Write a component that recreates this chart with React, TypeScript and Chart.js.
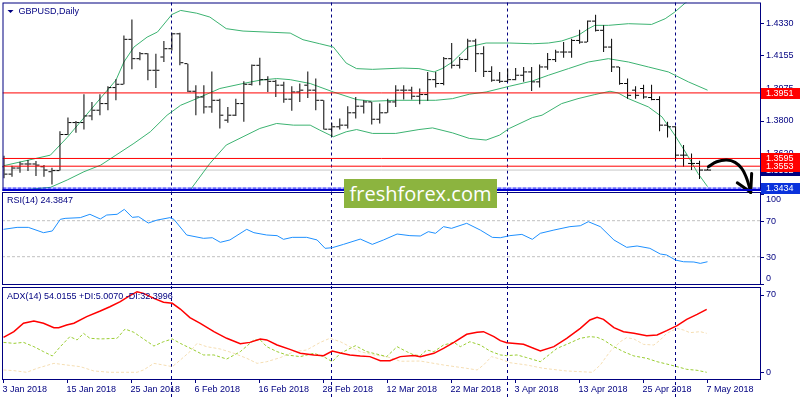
import React, { useEffect, useRef } from 'react';
import { Chart, registerables } from 'chart.js';

Chart.register(...registerables);

// ---------------- data ----------------
const symbolTitle = 'GBPUSD,Daily';
const rsiTitle = 'RSI(14) 24.3847';
const adxTitle = 'ADX(14) 54.0155 +DI:5.0070 -DI:32.3996';

const dateTickIndex = [0, 8, 16, 24, 32, 40, 48, 56, 64, 72, 80, 88];
const dateTickLabels = ['3 Jan 2018', '15 Jan 2018', '25 Jan 2018', '6 Feb 2018', '16 Feb 2018', '28 Feb 2018', '12 Mar 2018', '22 Mar 2018', '3 Apr 2018', '13 Apr 2018', '25 Apr 2018', '7 May 2018'];
const monthSeparatorIndex = [21, 41, 63, 84];

const opens = [1.3550, 1.3510, 1.3543, 1.3565, 1.3565, 1.3550, 1.3523, 1.3529, 1.3725, 1.3790,
  1.3790, 1.3826, 1.3857, 1.3893, 1.3980, 1.3998, 1.4242, 1.4137, 1.4164, 1.4074,
  1.4146, 1.4191, 1.4272, 1.4110, 1.3960, 1.3929, 1.3875, 1.3911, 1.3803, 1.3830,
  1.3893, 1.3998, 1.4101, 1.4023, 1.4014, 1.3993, 1.3917, 1.3956, 1.3993, 1.3966,
  1.3911, 1.3754, 1.3767, 1.3776, 1.3843, 1.3879, 1.3902, 1.3808, 1.3843, 1.3902,
  1.3966, 1.3966, 1.3933, 1.3942, 1.4023, 1.4002, 1.4137, 1.4101, 1.4133, 1.4233,
  1.4164, 1.4068, 1.4020, 1.4014, 1.4023, 1.4047, 1.4065, 1.4011, 1.4092, 1.4132,
  1.4173, 1.4173, 1.4236, 1.4227, 1.4341, 1.4291, 1.4200, 1.4092, 1.4002, 1.3966,
  1.3975, 1.3926, 1.3915, 1.3776, 1.3767, 1.3613, 1.3568, 1.3568, 1.3532];
const highs = [1.3610, 1.3556, 1.3577, 1.3586, 1.3581, 1.3559, 1.3545, 1.3743, 1.3817, 1.3798,
  1.3944, 1.3902, 1.3944, 1.3987, 1.4025, 1.4263, 1.4350, 1.4173, 1.4166, 1.4164,
  1.4233, 1.4278, 1.4278, 1.4110, 1.3993, 1.3993, 1.4068, 1.3920, 1.3875, 1.3920,
  1.4014, 1.4106, 1.4142, 1.4041, 1.4023, 1.4011, 1.3987, 1.4002, 1.4068, 1.4029,
  1.3911, 1.3789, 1.3812, 1.3879, 1.3929, 1.3911, 1.3902, 1.3893, 1.3920, 1.3993,
  1.3993, 1.3984, 1.3975, 1.4065, 1.4065, 1.4146, 1.4222, 1.4146, 1.4245, 1.4245,
  1.4204, 1.4096, 1.4065, 1.4083, 1.4086, 1.4092, 1.4092, 1.4106, 1.4168, 1.4186,
  1.4227, 1.4245, 1.4294, 1.4345, 1.4375, 1.4318, 1.4245, 1.4092, 1.4029, 1.3987,
  1.3996, 1.3996, 1.3933, 1.3794, 1.3770, 1.3668, 1.3622, 1.3583, 1.3541];
const lows = [1.3487, 1.3496, 1.3518, 1.3527, 1.3500, 1.3496, 1.3454, 1.3529, 1.3722, 1.3734,
  1.3752, 1.3803, 1.3830, 1.3857, 1.3911, 1.3998, 1.4079, 1.4128, 1.4020, 1.3978,
  1.4119, 1.4182, 1.4101, 1.3956, 1.3830, 1.3839, 1.3843, 1.3758, 1.3789, 1.3825,
  1.3794, 1.3991, 1.3993, 1.3956, 1.3929, 1.3897, 1.3854, 1.3902, 1.3924, 1.3857,
  1.3752, 1.3713, 1.3752, 1.3758, 1.3812, 1.3839, 1.3780, 1.3785, 1.3843, 1.3875,
  1.3915, 1.3915, 1.3890, 1.3908, 1.3980, 1.3993, 1.4083, 1.4083, 1.4128, 1.4065,
  1.4038, 1.4011, 1.4005, 1.4011, 1.4020, 1.4011, 1.3962, 1.3980, 1.4077, 1.4119,
  1.4142, 1.4142, 1.4218, 1.4227, 1.4285, 1.4173, 1.4065, 1.3996, 1.3920, 1.3920,
  1.3920, 1.3911, 1.3743, 1.3709, 1.3586, 1.3550, 1.3532, 1.3483, 1.3529];
const closes = [1.3510, 1.3543, 1.3565, 1.3565, 1.3559, 1.3532, 1.3529, 1.3725, 1.3790, 1.3790,
  1.3826, 1.3857, 1.3893, 1.3980, 1.3998, 1.4242, 1.4137, 1.4164, 1.4074, 1.4074,
  1.4191, 1.4272, 1.4115, 1.3960, 1.3929, 1.3875, 1.3911, 1.3830, 1.3830, 1.3893,
  1.3998, 1.4101, 1.4023, 1.4014, 1.3993, 1.3917, 1.3956, 1.3966, 1.3966, 1.3911,
  1.3754, 1.3767, 1.3776, 1.3843, 1.3879, 1.3902, 1.3808, 1.3843, 1.3902, 1.3966,
  1.3966, 1.3933, 1.3942, 1.4023, 1.4002, 1.4137, 1.4101, 1.4133, 1.4233, 1.4164,
  1.4068, 1.4020, 1.4014, 1.4023, 1.4047, 1.4065, 1.4011, 1.4092, 1.4132, 1.4173,
  1.4173, 1.4236, 1.4227, 1.4341, 1.4291, 1.4200, 1.4092, 1.4002, 1.3938, 1.3938,
  1.3929, 1.3915, 1.3776, 1.3767, 1.3613, 1.3613, 1.3568, 1.3532, 1.3532];

const bbUpperX = [0, 5.8, 7.9, 10, 12.1, 14, 15, 16.25, 17.9, 19.2, 21, 22.1, 24.1, 25.75, 27.8, 29.9, 35.8, 37.4, 39.5, 41.2, 42.8, 44.1, 46.1, 49.8, 51.9, 53.8, 54.8, 56.1, 58, 60.3, 63.2, 66.1, 68.1, 69.75, 71.8, 73.1, 73.9, 75.6, 78.1, 81, 82.7, 83.9, 85.2, 86.5, 88];
const bbUpper = [1.3556, 1.3613, 1.3709, 1.3816, 1.3924, 1.4020, 1.4119, 1.4200, 1.4254, 1.4282, 1.4377, 1.4399, 1.4384, 1.4363, 1.4300, 1.4287, 1.4276, 1.4240, 1.4218, 1.4200, 1.4113, 1.4083, 1.4079, 1.4086, 1.4083, 1.4065, 1.4083, 1.4119, 1.4200, 1.4222, 1.4222, 1.4218, 1.4222, 1.4233, 1.4263, 1.4300, 1.4318, 1.4318, 1.4327, 1.4323, 1.4354, 1.4390, 1.4439, 1.4480, 1.4530];
const bbMiddleX = [0, 3.5, 5.8, 7.9, 10, 12.1, 14, 16.25, 18.3, 20.4, 22.1, 24.1, 27, 29.9, 32, 34.1, 35.8, 38.3, 41.2, 44.1, 46.1, 49, 51.9, 54, 56.1, 58.2, 60.3, 63.2, 66.1, 68.1, 70.6, 73.1, 75.6, 78.1, 80.6, 83.1, 85.6, 88];
const bbMiddle = [1.3405, 1.3429, 1.3438, 1.3478, 1.3523, 1.3559, 1.3613, 1.3677, 1.3740, 1.3830, 1.3884, 1.3920, 1.3975, 1.4002, 1.4020, 1.4029, 1.4023, 1.4002, 1.3956, 1.3915, 1.3906, 1.3911, 1.3911, 1.3911, 1.3920, 1.3944, 1.3956, 1.3987, 1.4016, 1.4047, 1.4083, 1.4119, 1.4137, 1.4119, 1.4092, 1.4065, 1.4011, 1.3966];
const bbLowerX = [22, 23.3, 25.75, 27.8, 29.9, 32, 34.1, 36.2, 38.3, 39.5, 41.2, 42.8, 44.1, 46.1, 49, 51.9, 53.6, 56.1, 58.2, 60.3, 62, 63.2, 66.1, 67.3, 69.75, 71.8, 73.9, 75.8, 76.8, 78.1, 80.6, 82.3, 83.9, 85.6, 86.8, 88];
const bbLower = [1.3350, 1.3424, 1.3568, 1.3668, 1.3713, 1.3758, 1.3785, 1.3776, 1.3776, 1.3749, 1.3713, 1.3740, 1.3752, 1.3731, 1.3731, 1.3752, 1.3761, 1.3734, 1.3704, 1.3695, 1.3722, 1.3758, 1.3817, 1.3830, 1.3893, 1.3920, 1.3942, 1.3960, 1.3951, 1.3920, 1.3875, 1.3821, 1.3722, 1.3604, 1.3514, 1.3442];

const priceTicks = [1.4330, 1.4155, 1.3975, 1.3800, 1.3620];
const redLevels = [1.3951, 1.3595, 1.3553];
const bidPrice = 1.3532;
const targetLevel = 1.3434;

const arrowX = [88.1, 89.15, 90.4, 91.44, 92.27, 92.81, 93.22, 93.4];
const arrowY = [1.3550, 1.3577, 1.3586, 1.3574, 1.3541, 1.3496, 1.3442, 1.3411];
const arrowHeadLeftX = [91.72, 93.4];
const arrowHeadLeftY = [1.3463, 1.3411];
const arrowHeadRightX = [93.52, 93.4];
const arrowHeadRightY = [1.3514, 1.3411];

const rsiX = [0, 1.7, 3.1, 5.0, 6.1, 7.1, 7.7, 9.6, 10.8, 12.1, 12.9, 14.2, 15.1, 16.1, 16.9, 18.1, 19.2, 20.8, 21.3, 22.9, 25.0, 26.1, 27.1, 28.3, 30.4, 31.3, 32.9, 34.2, 35.0, 36.1, 37.9, 39.2, 40.2, 41.1, 42.5, 44.6, 46.1, 47.5, 49.2, 50.8, 52.1, 53.1, 54.0, 55.0, 56.0, 57.9, 59.6, 61.1, 62.1, 63.3, 64.8, 66.1, 67.1, 68.8, 70.8, 72.1, 73.1, 74.6, 76.3, 77.9, 79.2, 80.8, 82.1, 82.9, 84.0, 85.0, 86.3, 87.1, 88.0];
const rsiValues = [60.4, 62.6, 62.6, 56.7, 58.6, 71.5, 72.6, 73.4, 77.1, 71.9, 76.3, 77.1, 82.6, 73.7, 74.4, 67.4, 70.7, 73.4, 71.5, 54.1, 50.4, 51.1, 46.0, 48.6, 60.4, 56.7, 54.1, 53.4, 49.3, 51.5, 51.5, 48.6, 39.3, 40.0, 43.7, 49.6, 43.7, 48.6, 55.2, 53.4, 53.0, 57.8, 56.0, 63.4, 61.5, 67.1, 59.6, 51.5, 51.1, 53.4, 54.8, 49.3, 56.0, 59.6, 63.4, 64.4, 68.9, 63.4, 48.6, 40.4, 41.9, 39.3, 33.0, 31.9, 26.3, 24.4, 24.1, 22.6, 24.4];
const rsiLevels = [70, 30];
const rsiTicks = [100, 70, 30, 0];

const adxX = [0, 1.3, 2.5, 3.8, 5.0, 6.3, 6.9, 7.9, 8.8, 10.4, 12.1, 13.3, 14.6, 15.8, 16.7, 17.5, 18.8, 20.0, 21.1, 22.1, 23.3, 24.6, 26.3, 27.9, 29.6, 30.8, 32.1, 32.9, 34.2, 35.8, 37.1, 38.8, 40.0, 41.1, 42.1, 43.3, 44.6, 45.8, 47.1, 48.3, 49.6, 51.3, 52.1, 53.8, 55.0, 56.3, 57.9, 59.2, 60.0, 61.3, 62.1, 62.9, 65.0, 67.1, 68.8, 70.4, 72.1, 73.3, 74.2, 75.0, 76.3, 77.5, 78.8, 80.4, 81.7, 82.9, 84.2, 85.4, 86.7, 87.9];
const adxValues = [31.7, 36.8, 44.4, 46.5, 44.4, 40.4, 40.4, 42.8, 44.4, 50.4, 55.5, 59.4, 64.0, 69.4, 73.0, 71.5, 67.0, 63.4, 62.5, 57.3, 49.5, 44.4, 36.8, 30.8, 25.9, 27.1, 30.2, 29.3, 24.7, 20.8, 17.2, 15.7, 15.1, 19.3, 17.5, 15.7, 14.8, 14.2, 10.5, 10.5, 14.2, 15.1, 14.2, 17.2, 21.7, 27.1, 34.4, 36.2, 36.8, 32.3, 28.7, 26.8, 25.4, 19.3, 23.2, 30.8, 39.8, 47.4, 49.8, 48.0, 40.4, 36.8, 35.3, 33.2, 33.8, 37.7, 42.2, 48.0, 52.5, 57.0];
const plusDiX = [0, 1.3, 2.5, 3.8, 5.0, 6.1, 7.1, 8.3, 9.2, 10.0, 10.8, 12.1, 14.2, 15.2, 16.3, 17.5, 18.8, 20.0, 21.1, 22.1, 23.8, 25.0, 26.3, 27.9, 29.6, 31.3, 32.1, 32.9, 34.2, 35.4, 37.1, 38.8, 40.0, 41.1, 42.1, 44.0, 45.4, 47.1, 47.9, 49.2, 49.6, 50.4, 51.3, 52.1, 52.9, 53.8, 55.0, 56.3, 57.1, 58.3, 59.6, 60.8, 62.1, 62.9, 64.2, 65.4, 67.1, 67.9, 69.2, 70.4, 72.1, 73.3, 74.2, 75.0, 76.3, 77.5, 78.8, 80.4, 81.7, 82.9, 84.2, 85.4, 86.7, 87.9];
const plusDi = [27.1, 26.2, 27.1, 23.2, 18.7, 14.8, 23.2, 32.3, 29.3, 35.3, 30.8, 30.2, 30.8, 39.2, 36.2, 30.2, 23.8, 27.7, 30.2, 26.2, 20.2, 15.7, 15.7, 12.0, 18.7, 29.3, 29.3, 23.2, 18.7, 15.7, 14.2, 17.2, 14.2, 9.6, 17.2, 24.1, 18.7, 15.7, 14.2, 23.2, 21.7, 18.7, 15.7, 15.1, 20.2, 18.7, 24.7, 27.1, 23.2, 27.7, 24.7, 19.3, 15.7, 15.1, 15.7, 13.3, 9.6, 14.2, 21.7, 25.3, 30.8, 32.3, 31.7, 29.3, 23.2, 18.7, 14.8, 12.7, 9.6, 7.5, 5.1, 2.7, 1.8, 0.0];
const minusDiX = [0, 1.3, 2.9, 4.2, 6.3, 7.9, 9.6, 11.3, 13.3, 15.4, 16.7, 17.5, 18.8, 20.0, 21.1, 22.1, 23.3, 24.2, 25.4, 27.1, 28.8, 30.4, 31.7, 32.9, 34.6, 36.3, 37.9, 39.6, 40.8, 42.1, 43.3, 44.6, 46.3, 47.9, 49.6, 52.1, 55.0, 57.9, 59.2, 60.0, 61.0, 62.1, 63.3, 65.4, 67.5, 70.4, 73.6, 74.6, 75.8, 77.1, 77.9, 78.8, 80.0, 81.3, 82.1, 82.9, 84.2, 85.0, 85.8, 87.1, 87.9];
const minusDi = [2.1, 1.5, 0.0, 3.6, 8.1, 6.6, 5.1, 1.2, 0.0, 0.0, 0.0, 2.1, 8.1, 6.6, 5.1, 11.1, 18.7, 26.2, 23.2, 21.1, 17.2, 12.7, 8.1, 9.6, 13.3, 18.7, 20.2, 27.1, 30.8, 27.7, 23.2, 18.7, 15.7, 14.2, 10.0, 10.2, 6.6, 3.6, 2.1, 6.6, 14.2, 12.0, 8.7, 6.6, 3.6, 1.2, 0.0, 6.6, 18.7, 27.7, 31.4, 30.2, 25.3, 24.7, 29.3, 35.3, 39.8, 38.3, 35.9, 36.8, 35.3];
const adxTicks = [70, 0];

// ---------------- chart setup ----------------
const X_MIN = -0.1875;
const X_MAX = 94.6875;
const PRICE_MIN = 1.34183;
const PRICE_MAX = 1.44421;
const RSI_MIN = -1.44;
const RSI_MAX = 101.89;
const ADX_MIN = -6.98;
const ADX_MAX = 77.26;

const NAVY = '#000080';
const GREEN = '#3cb371';
const FONT = '9px "Liberation Sans", Arial, sans-serif';

const zip = (xs: number[], ys: number[]) => xs.map((x, i) => ({ x, y: ys[i] }));
const hline = (v: number) => [{ x: X_MIN, y: v }, { x: X_MAX, y: v }];

const lineDs = (data: any[], extra: any) => ({
  type: 'line',
  data,
  borderColor: '#000',
  borderWidth: 1,
  pointRadius: 0,
  pointHoverRadius: 0,
  tension: 0,
  fill: false,
  ...extra,
});

const tickDs = (values: number[], dx: number) => ({
  type: 'line',
  data: values.map((v, i) => ({ x: i + dx, y: v })),
  showLine: false,
  pointStyle: 'line',
  pointRadius: 1.5,
  pointHoverRadius: 1.5,
  pointBorderColor: '#000',
  pointBackgroundColor: '#000',
  pointBorderWidth: 1,
  order: 2,
});

function baseOptions(ymin: number, ymax: number, padding: any): any {
  return {
    responsive: false,
    animation: false,
    events: [],
    layout: { padding },
    plugins: { legend: { display: false }, tooltip: { enabled: false }, title: { display: false } },
    scales: {
      x: { type: 'linear', min: X_MIN, max: X_MAX, offset: false, grid: { offset: false }, display: false },
      y: { type: 'linear', min: ymin, max: ymax, offset: false, display: false },
    },
  };
}

function drawSeparators(chart: any, y0: number, y1: number) {
  const { ctx, scales } = chart;
  ctx.save();
  ctx.strokeStyle = NAVY;
  ctx.lineWidth = 1;
  ctx.setLineDash([3, 3]);
  for (const idx of monthSeparatorIndex) {
    const px = Math.floor(scales.x.getPixelForValue(idx)) + 0.5;
    ctx.beginPath();
    ctx.moveTo(px, y0);
    ctx.lineTo(px, y1);
    ctx.stroke();
  }
  ctx.restore();
}

function drawFrame(chart: any) {
  const { ctx, chartArea: a } = chart;
  ctx.save();
  ctx.strokeStyle = NAVY;
  ctx.lineWidth = 1;
  ctx.strokeRect(a.left + 0.5, a.top + 0.5, a.right - a.left - 1, a.bottom - a.top - 1);
  ctx.restore();
}

function drawAxisLabels(chart: any, values: number[], decimals: number, shift: number) {
  const { ctx, chartArea: a, scales } = chart;
  ctx.save();
  ctx.font = FONT;
  ctx.fillStyle = NAVY;
  ctx.strokeStyle = NAVY;
  ctx.lineWidth = 1;
  ctx.textAlign = 'left';
  ctx.textBaseline = 'middle';
  for (const v of values) {
    const py = scales.y.getPixelForValue(v);
    if (py >= a.top && py <= a.bottom) {
      const yy = Math.round(py) + 0.5;
      ctx.beginPath();
      ctx.moveTo(a.right, yy);
      ctx.lineTo(a.right + 3, yy);
      ctx.stroke();
    }
    const ly = Math.min(Math.max(py + shift, a.top + 8), a.bottom - 6);
    ctx.fillText(v.toFixed(decimals), a.right + 5, ly);
  }
  ctx.restore();
}

function drawTitle(chart: any, text: string, dy: number) {
  const { ctx, chartArea: a } = chart;
  ctx.save();
  ctx.font = FONT;
  ctx.fillStyle = NAVY;
  ctx.textAlign = 'left';
  ctx.textBaseline = 'middle';
  ctx.fillText(text, a.left + 5, a.top + dy);
  ctx.restore();
}

function drawTag(chart: any, v: number, bg: string) {
  const { ctx, chartArea: a, scales } = chart;
  const py = scales.y.getPixelForValue(v);
  ctx.save();
  ctx.fillStyle = bg;
  ctx.fillRect(a.right, Math.round(py) - 5, chart.width - a.right, 11);
  ctx.font = FONT;
  ctx.fillStyle = '#ffffff';
  ctx.textAlign = 'left';
  ctx.textBaseline = 'middle';
  ctx.fillText(v.toFixed(4), a.right + 5, Math.round(py) + 0.5);
  ctx.restore();
}

const pricePlugin = {
  id: 'pricePane',
  beforeDatasetsDraw(chart: any) {
    drawSeparators(chart, chart.chartArea.top, chart.chartArea.bottom + 1);
  },
  afterDraw(chart: any) {
    const { ctx, chartArea: a } = chart;
    drawFrame(chart);
    // heavier blue bottom edge of the price pane
    ctx.save();
    ctx.fillStyle = '#0000cc';
    ctx.fillRect(a.left, a.bottom - 2, a.right - a.left, 2);
    ctx.restore();
    ctx.save();
    ctx.fillStyle = NAVY;
    ctx.beginPath();
    ctx.moveTo(a.left + 5, a.top + 7.5);
    ctx.lineTo(a.left + 11, a.top + 7.5);
    ctx.lineTo(a.left + 8, a.top + 10.5);
    ctx.closePath();
    ctx.fill();
    ctx.restore();
    ctx.save();
    ctx.font = FONT;
    ctx.fillStyle = NAVY;
    ctx.textBaseline = 'middle';
    ctx.fillText(symbolTitle, a.left + 16, a.top + 9);
    ctx.restore();
    drawAxisLabels(chart, priceTicks, 4, 0);
    drawTag(chart, bidPrice, '#000080');
    for (const v of redLevels) drawTag(chart, v, '#ff0000');
    drawTag(chart, targetLevel, '#0a32dc');
  },
};

const rsiPlugin = {
  id: 'rsiPane',
  beforeDatasetsDraw(chart: any) {
    drawSeparators(chart, 0, chart.height);
  },
  afterDraw(chart: any) {
    drawFrame(chart);
    drawTitle(chart, rsiTitle, 9);
    drawAxisLabels(chart, rsiTicks, 0, 1);
  },
};

const adxPlugin = {
  id: 'adxPane',
  beforeDatasetsDraw(chart: any) {
    drawSeparators(chart, 0, chart.height);
  },
  afterDraw(chart: any) {
    const { ctx, chartArea: a, scales } = chart;
    drawFrame(chart);
    drawTitle(chart, adxTitle, 9.5);
    drawAxisLabels(chart, adxTicks, 0, 0);
    ctx.save();
    ctx.font = FONT;
    ctx.fillStyle = NAVY;
    ctx.strokeStyle = NAVY;
    ctx.lineWidth = 1;
    ctx.textAlign = 'left';
    ctx.textBaseline = 'middle';
    dateTickIndex.forEach((idx, k) => {
      const px = Math.floor(scales.x.getPixelForValue(idx)) + 0.5;
      ctx.beginPath();
      ctx.moveTo(px, a.bottom);
      ctx.lineTo(px, a.bottom + 3);
      ctx.stroke();
      ctx.fillText(dateTickLabels[k], px - 1, a.bottom + 9.5);
    });
    ctx.restore();
  },
};

function priceConfig(): any {
  const arrowStyle = { borderColor: '#000', borderWidth: 3, clip: false, order: -1, borderCapStyle: 'round', borderJoinStyle: 'round' };
  return {
    type: 'line',
    data: {
      datasets: [
        lineDs(zip(arrowX, arrowY), { ...arrowStyle, tension: 0.4 }),
        lineDs(zip(arrowHeadLeftX, arrowHeadLeftY), arrowStyle),
        lineDs(zip(arrowHeadRightX, arrowHeadRightY), arrowStyle),
        lineDs(hline(targetLevel), { borderColor: '#0000ff', borderWidth: 1, borderDash: [4, 1], order: 0 }),
        ...redLevels.map((v) => lineDs(hline(v), { borderColor: '#ff0000', order: 0 })),
        lineDs(zip(bbUpperX, bbUpper), { borderColor: GREEN, order: 3 }),
        lineDs(zip(bbMiddleX, bbMiddle), { borderColor: GREEN, order: 3 }),
        lineDs(zip(bbLowerX, bbLower), { borderColor: GREEN, order: 3 }),
        tickDs(opens, -0.25),
        tickDs(closes, 0.25),
        {
          type: 'bar',
          data: lows.map((l, i) => ({ x: i, y: [l, highs[i]] })),
          backgroundColor: '#000',
          borderWidth: 0,
          barThickness: 1,
          inflateAmount: 0,
          grouped: false,
          order: 2,
        },
        lineDs(hline(bidPrice), { borderColor: '#c8c8c8', order: 6 }),
      ],
    },
    options: baseOptions(PRICE_MIN, PRICE_MAX, { left: 2, right: 39, top: 2, bottom: 5 }),
    plugins: [pricePlugin],
  };
}

function rsiConfig(): any {
  return {
    type: 'line',
    data: {
      datasets: [
        lineDs(zip(rsiX, rsiValues), { borderColor: '#1e90ff', order: 0 }),
        ...rsiLevels.map((v) => lineDs(hline(v), { borderColor: '#c0c0c0', borderDash: [3, 2], order: 1 })),
      ],
    },
    options: baseOptions(RSI_MIN, RSI_MAX, { left: 2, right: 39, top: 0, bottom: 1 }),
    plugins: [rsiPlugin],
  };
}

function adxConfig(): any {
  return {
    type: 'line',
    data: {
      datasets: [
        lineDs(zip(adxX, adxValues), { borderColor: '#ff0000', borderWidth: 1.5, order: 0 }),
        lineDs(zip(plusDiX, plusDi), { borderColor: '#9acd32', borderDash: [3, 2], order: 1 }),
        lineDs(zip(minusDiX, minusDi), { borderColor: '#f5deb3', borderDash: [3, 2], order: 2 }),
      ],
    },
    options: baseOptions(ADX_MIN, ADX_MAX, { left: 2, right: 39, top: 1, bottom: 20 }),
    plugins: [adxPlugin],
  };
}

export default function App() {
  const priceRef = useRef<HTMLCanvasElement>(null);
  const rsiRef = useRef<HTMLCanvasElement>(null);
  const adxRef = useRef<HTMLCanvasElement>(null);

  useEffect(() => {
    const charts = [
      new Chart(priceRef.current as HTMLCanvasElement, priceConfig()),
      new Chart(rsiRef.current as HTMLCanvasElement, rsiConfig()),
      new Chart(adxRef.current as HTMLCanvasElement, adxConfig()),
    ];
    return () => charts.forEach((c) => c.destroy());
  }, []);

  return (
    <div style={{ position: 'fixed', left: 0, top: 0, width: 800, height: 400, background: '#ffffff', overflow: 'hidden' }}>
      <canvas ref={rsiRef} width={800} height={94} style={{ position: 'absolute', left: 0, top: 192, width: 800, height: 94, zIndex: 1 }} />
      <canvas ref={adxRef} width={800} height={114} style={{ position: 'absolute', left: 0, top: 286, width: 800, height: 114, zIndex: 1 }} />
      <canvas ref={priceRef} width={800} height={196} style={{ position: 'absolute', left: 0, top: 0, width: 800, height: 196, zIndex: 2 }} />
      <div
        style={{
          position: 'absolute',
          left: 344,
          top: 179,
          width: 153,
          height: 29,
          background: '#8cb43f',
          color: '#ffffff',
          font: '20px "Open Sans", sans-serif',
          lineHeight: '29px',
          textAlign: 'center',
          zIndex: 3,
        }}
      >
        freshforex.com
      </div>
    </div>
  );
}
